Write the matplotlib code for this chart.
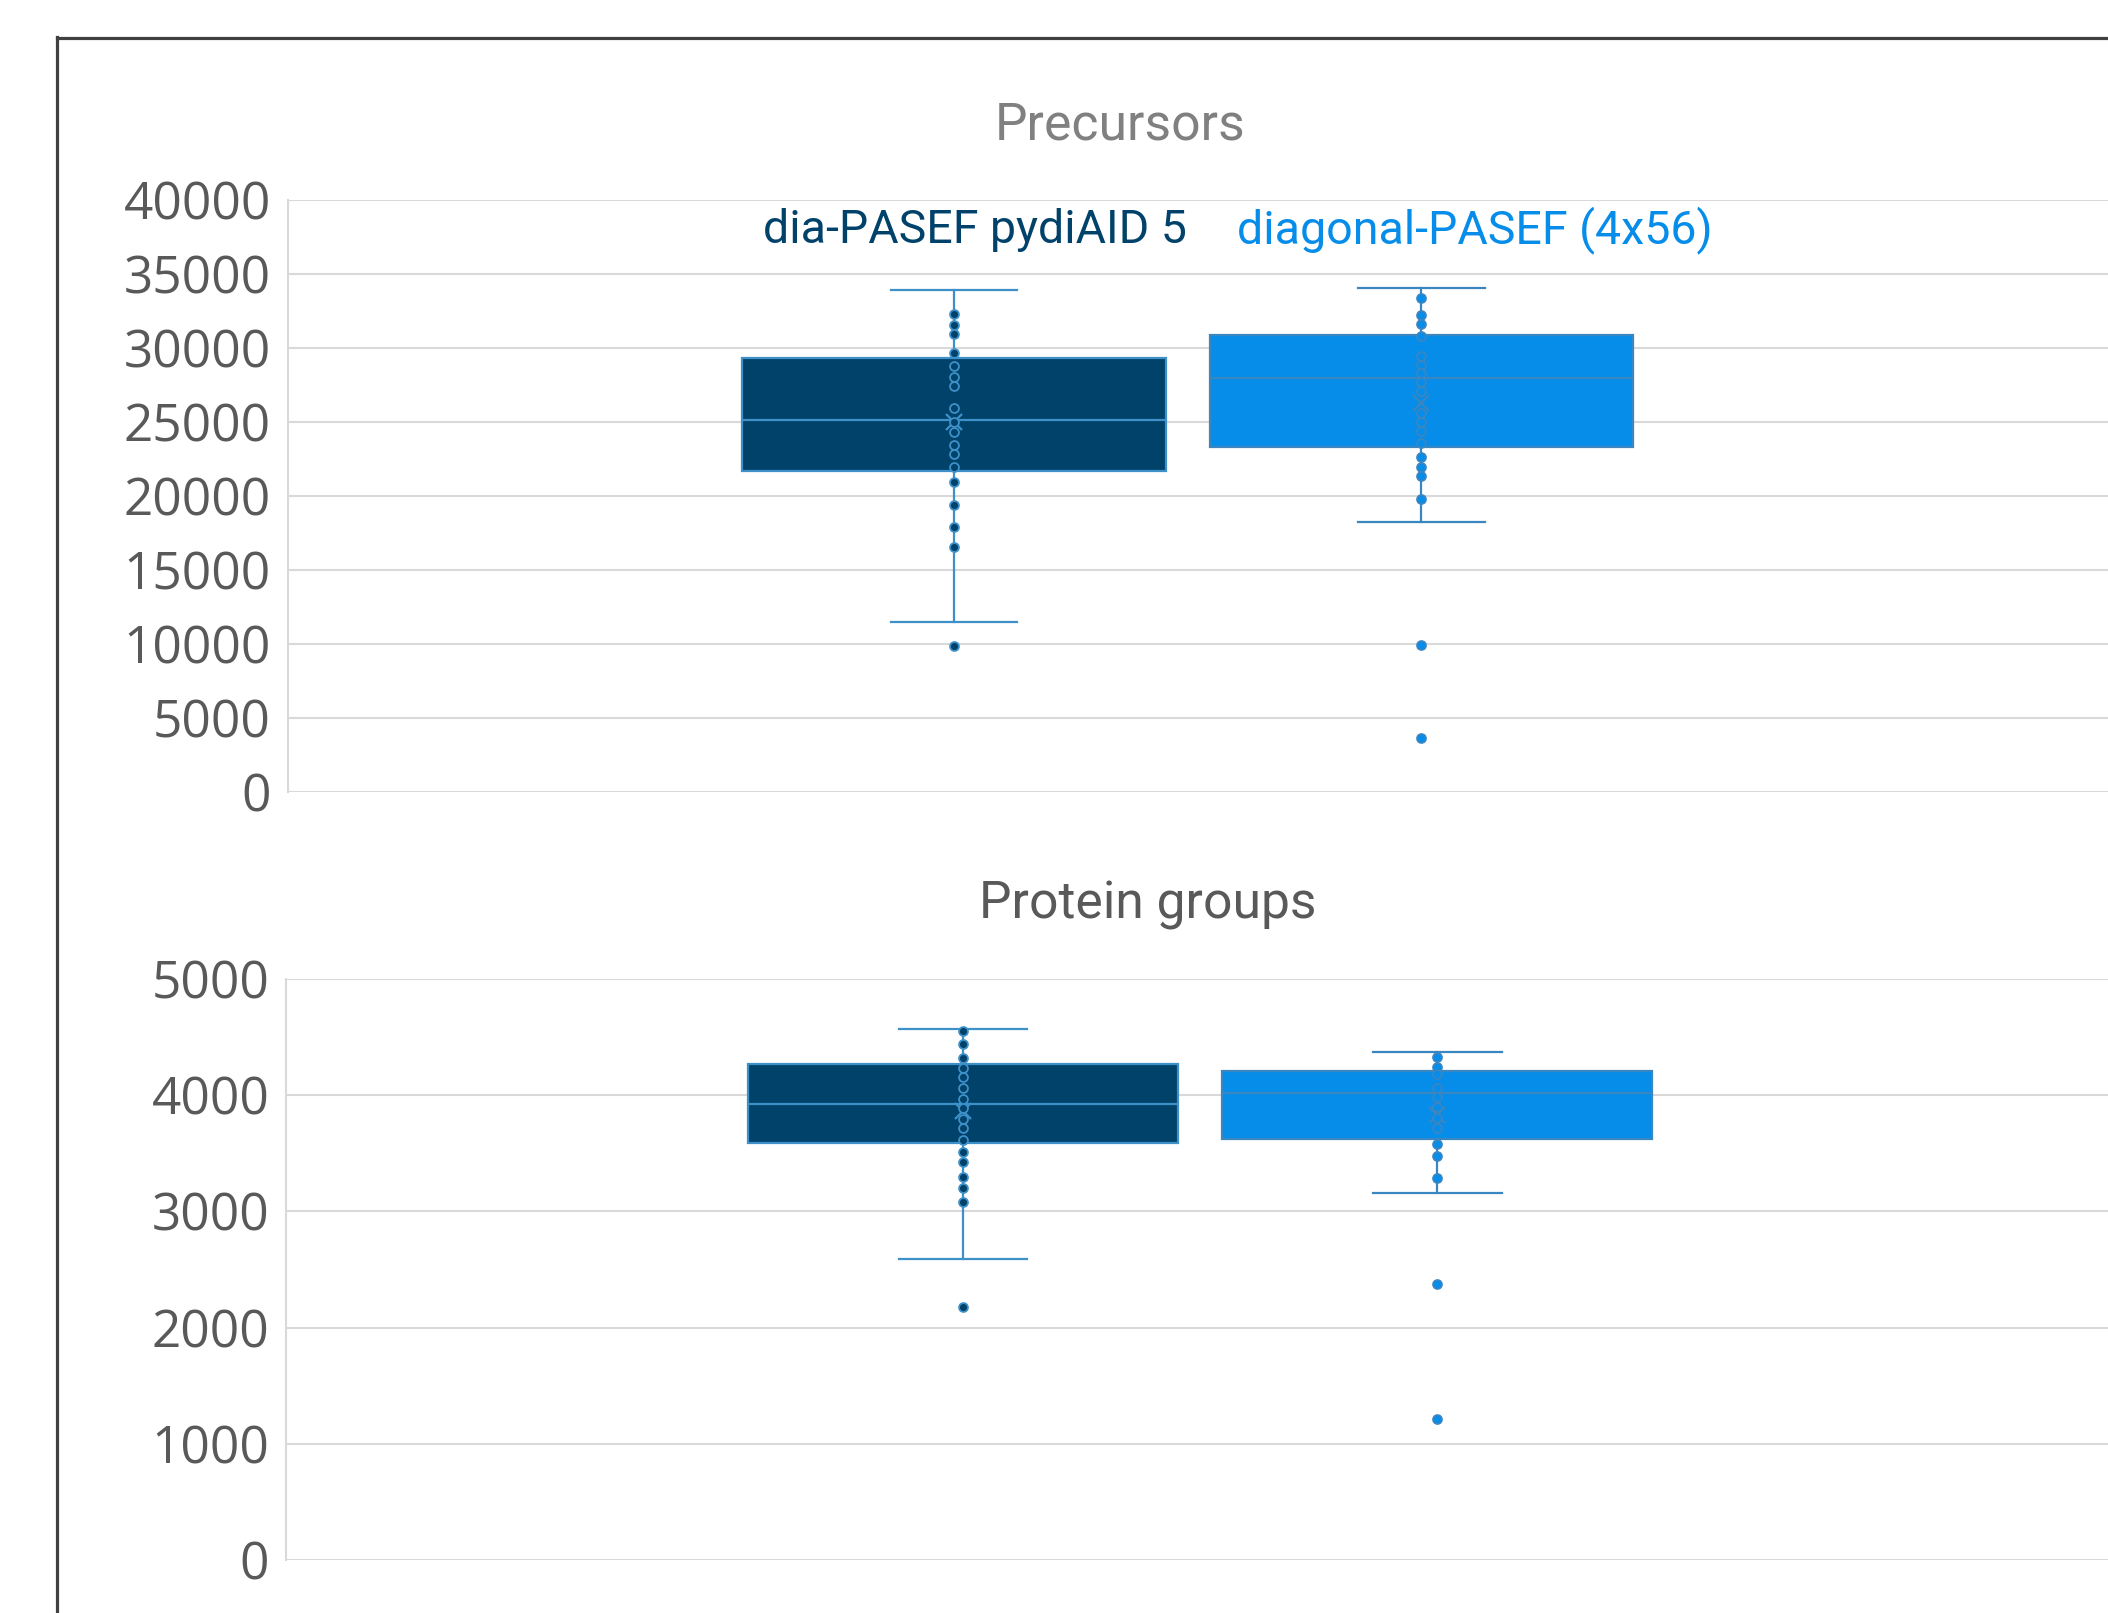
import matplotlib
matplotlib.use('Agg')
import matplotlib.pyplot as plt
from matplotlib.lines import Line2D
import numpy as np

# series names and colours
series_names = ['dia-PASEF pydiAID 5', 'diagonal-PASEF (4x56)']
fill_colors = ['#01426A', '#068DE9']
line_colors = ['#3E90C8', '#3A86C0']

# Precursors: box statistics per series
prec_q1 = [21730, 23350]
prec_med = [25135, 27970]
prec_q3 = [29365, 30920]
prec_lo = [11480, 18240]
prec_hi = [33920, 34070]
prec_mean = [25000, 26280]
prec_dia_points = [32340, 31550, 30950, 29700, 28780, 28060, 27450, 25970, 25000,
                   24370, 23450, 22860, 21980, 20950, 19430, 17930, 16550, 9890]
prec_diag_points = [33420, 32250, 31620, 30830, 29500, 28870, 28310, 27740, 27140,
                    25610, 25000, 24430, 23580, 22640, 22000, 21370, 19840, 9970, 3670]

# Protein groups: box statistics per series
prot_q1 = [3590, 3622]
prot_med = [3920, 4020]
prot_q3 = [4267, 4209]
prot_lo = [2593, 3160]
prot_hi = [4570, 4370]
prot_mean = [3862, 3828]
prot_dia_points = [4550, 4436, 4321, 4235, 4157, 4063, 3968, 3891, 3796, 3719,
                   3610, 3513, 3421, 3295, 3203, 3077, 2177]
prot_diag_points = [4329, 4243, 4178, 4058, 3980, 3894, 3805, 3716, 3581, 3478,
                    3286, 2378, 1217]

prec_ticks = [0, 5000, 10000, 15000, 20000, 25000, 30000, 35000, 40000]
prot_ticks = [0, 1000, 2000, 3000, 4000, 5000]

W, H = 2108, 1613
fig = plt.figure(figsize=(W / 100, H / 100), dpi=100)
fig.patch.set_facecolor('white')


def draw_panel(ax, q1, med, q3, lo, hi, mean, points, ticks, xlim):
    stats = []
    for i in range(2):
        stats.append(dict(q1=q1[i], med=med[i], q3=q3[i], whislo=lo[i], whishi=hi[i],
                          mean=mean[i], fliers=[]))
    positions = [0, 1]
    for i in range(2):
        ax.bxp([stats[i]], positions=[positions[i]], widths=0.906, capwidths=0.271,
               patch_artist=True, showmeans=True, showfliers=False, manage_ticks=False,
               boxprops=dict(facecolor=fill_colors[i], edgecolor=line_colors[i], linewidth=1.6),
               medianprops=dict(color=line_colors[i], linewidth=1.6),
               whiskerprops=dict(color=line_colors[i], linewidth=1.6),
               capprops=dict(color=line_colors[i], linewidth=1.6),
               meanprops=dict(marker='x', markeredgecolor=line_colors[i], markersize=11,
                              markeredgewidth=1.6),
               zorder=2)
        ax.plot(np.full(len(points[i]), positions[i]), points[i], 'o', ms=6.4,
                mfc=fill_colors[i], mec=line_colors[i], mew=1.3, zorder=3, clip_on=False)
    ax.set_xlim(*xlim)
    ax.set_ylim(ticks[0], ticks[-1])
    ax.set_yticks(ticks)
    ax.set_yticklabels([str(t) for t in ticks], fontfamily='Open Sans', fontsize=37,
                       color='#595959')
    ax.tick_params(axis='y', length=0, pad=12)
    ax.set_xticks([])
    ax.grid(axis='y', color='#d9d9d9', linewidth=1.5)
    ax.set_axisbelow(True)
    for s in ['top', 'right', 'bottom']:
        ax.spines[s].set_visible(False)
    ax.spines['left'].set_color('#d9d9d9')
    ax.spines['left'].set_linewidth(1.5)


ax1 = fig.add_axes([287.7 / W, (H - 792.2) / H, 1 - 287.7 / W, (792.2 - 200.4) / H])
draw_panel(ax1, prec_q1, prec_med, prec_q3, prec_lo, prec_hi, prec_mean,
           [prec_dia_points, prec_diag_points], prec_ticks, (-1.426, 2.4695))

ax2 = fig.add_axes([286 / W, (H - 1560.3) / H, 1 - 286 / W, (1560.3 - 978.7) / H])
draw_panel(ax2, prot_q1, prot_med, prot_q3, prot_lo, prot_hi, prot_mean,
           [prot_dia_points, prot_diag_points], prot_ticks, (-1.4274, 2.4141))

# titles
fig.text(1120 / W, 1 - 140 / H, 'Precursors', ha='center', va='baseline',
         fontfamily='Roboto', fontsize=37.2, color='#808080')
fig.text(1148 / W, 1 - 919 / H, 'Protein groups', ha='center', va='baseline',
         fontfamily='Roboto', fontsize=37.2, color='#595959')

# legend as coloured text
fig.text(975 / W, 1 - 243 / H, series_names[0], ha='center', va='baseline',
         fontfamily='Roboto', fontsize=33.5, color=fill_colors[0])
fig.text(1475 / W, 1 - 243 / H, series_names[1], ha='center', va='baseline',
         fontfamily='Roboto', fontsize=33.5, color=fill_colors[1])

# outer chart frame (top and left edges visible)
fig.add_artist(Line2D([56.5 / W, 1.0], [1 - 38.3 / H, 1 - 38.3 / H], color='#404040',
                      linewidth=2.3, transform=fig.transFigure))
fig.add_artist(Line2D([56.5 / W, 56.5 / W], [1 - 37 / H, 0], color='#404040',
                      linewidth=2.3, transform=fig.transFigure))

fig.savefig('out.png', dpi=100, facecolor='white')
